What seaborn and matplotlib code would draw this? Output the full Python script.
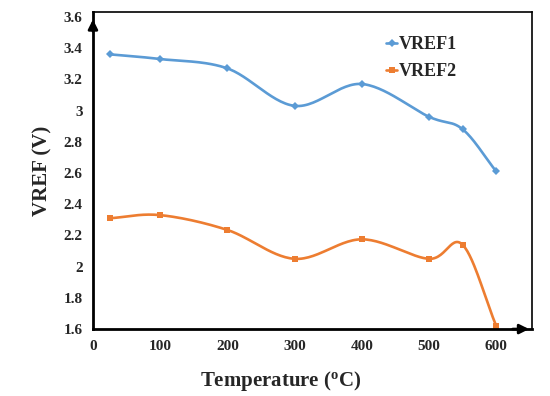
import matplotlib
matplotlib.use("Agg")
import matplotlib.pyplot as plt
import numpy as np
import pandas as pd
import seaborn as sns

# Dados
temperatura = [25, 100, 200, 300, 400, 500, 550, 600]
vref1 = [3.36, 3.33, 3.27, 3.03, 3.17, 2.96, 2.88, 2.61]
vref2 = [2.31, 2.33, 2.235, 2.05, 2.175, 2.05, 2.14, 1.62]
yticks = [1.6, 1.8, 2, 2.2, 2.4, 2.6, 2.8, 3, 3.2, 3.4, 3.6]
ytick_labels = ["1.6", "1.8", "2", "2.2", "2.4", "2.6", "2.8", "3", "3.2", "3.4", "3.6"]
xticks = [0, 100, 200, 300, 400, 500, 600]

sns.set_style("white")
plt.rcParams['font.family'] = ['Liberation Serif', 'DejaVu Serif']
plt.rcParams['font.weight'] = 'bold'
plt.rcParams['mathtext.fontset'] = 'custom'
plt.rcParams['mathtext.rm'] = 'Liberation Serif:bold'
plt.rcParams['mathtext.bf'] = 'Liberation Serif:bold'


def suaviza(x, y, n=30):
    # curva suavizada tipo Catmull-Rom (como a linha suave do Excel)
    x = np.asarray(x, float)
    y = np.asarray(y, float)
    px = np.concatenate([[2 * x[0] - x[1]], x, [2 * x[-1] - x[-2]]])
    py = np.concatenate([[2 * y[0] - y[1]], y, [2 * y[-1] - y[-2]]])
    xs, ys = [], []
    t = np.linspace(0, 1, n)
    for i in range(1, len(px) - 2):
        for p, out in ((px, xs), (py, ys)):
            p0, p1, p2, p3 = p[i - 1], p[i], p[i + 1], p[i + 2]
            out.extend(0.5 * ((2 * p1) + (-p0 + p2) * t
                              + (2 * p0 - 5 * p1 + 4 * p2 - p3) * t ** 2
                              + (-p0 + 3 * p1 - 3 * p2 + p3) * t ** 3))
    return xs, ys


azul = "#5B9BD5"
laranja = "#ED7D31"

fig = plt.figure(figsize=(5.5, 3.96), dpi=100)
ax = fig.add_axes([0.169, 0.169, 0.798, 0.801])

for serie, cor, marcador, nome in [(vref1, azul, "D", "VREF1"), (vref2, laranja, "s", "VREF2")]:
    cx, cy = suaviza(temperatura, serie)
    sns.lineplot(x=cx, y=cy, ax=ax, color=cor, linewidth=1.9, sort=False)
    df = pd.DataFrame({"T": temperatura, "V": serie})
    sns.lineplot(data=df, x="T", y="V", ax=ax, color=cor, marker=marcador, markersize=4,
                 markeredgewidth=0, linewidth=0, label=nome)

ax.set_xlim(0, 653)
ax.set_ylim(1.6, 3.632)
ax.set_xticks(xticks)
ax.set_xticklabels([str(v) for v in xticks])
ax.set_yticks(yticks)
ax.set_yticklabels(ytick_labels)
ax.tick_params(axis="both", direction="out", length=4, width=1.5, labelsize=11, color="black")
ax.tick_params(axis="x", pad=4)
for s in ["left", "bottom"]:
    ax.spines[s].set_linewidth(2)
    ax.spines[s].set_color("black")
for s in ["top", "right"]:
    ax.spines[s].set_linewidth(1.2)
    ax.spines[s].set_color("black")

# setas nos eixos
ax.annotate("", xy=(0, 0.985), xytext=(0, 0.93), xycoords="axes fraction",
            arrowprops=dict(arrowstyle="-|>", color="black", lw=2, mutation_scale=14))
ax.annotate("", xy=(1.0, 0), xytext=(0.95, 0), xycoords="axes fraction",
            arrowprops=dict(arrowstyle="-|>", color="black", lw=2, mutation_scale=14))

ax.set_xlabel(r"Temperature ($\mathbf{^o}$C)", fontsize=15, fontweight="bold")
ax.xaxis.set_label_coords(0.428, -0.125)
ax.set_ylabel("VREF (V)", fontsize=15, fontweight="bold", labelpad=8)

leg = ax.legend(loc="upper left", bbox_to_anchor=(0.63, 0.975), frameon=False, fontsize=13,
                handlelength=0.65, handletextpad=0.1, labelspacing=0.55)
for h in leg.legend_handles:
    h.set_linewidth(1.9)

fig.savefig("out.png", dpi=100)
